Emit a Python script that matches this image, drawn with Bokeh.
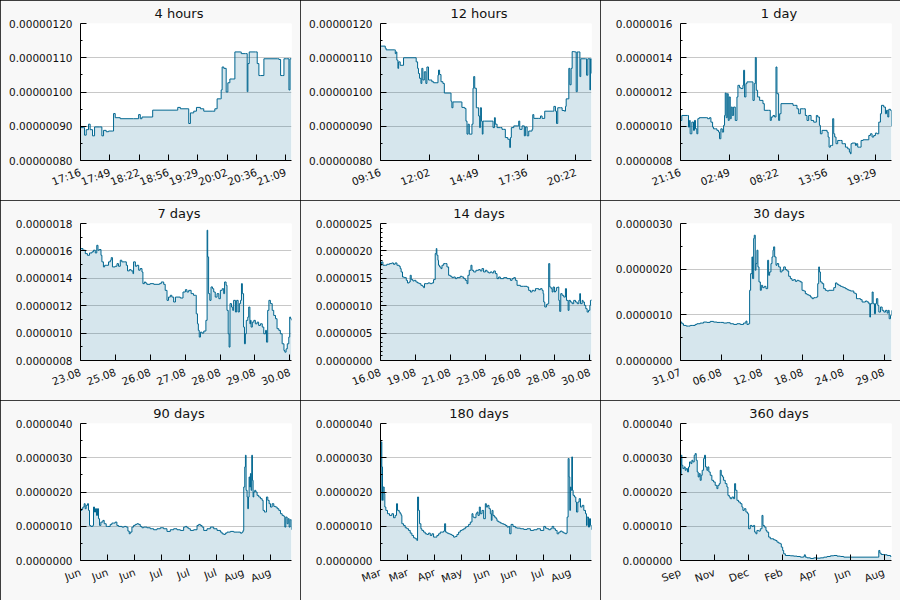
import numpy as np
from bokeh.plotting import figure
from bokeh.layouts import gridplot
from bokeh.models import FixedTicker, PrintfTickFormatter, Range1d
from bokeh.embed import file_html
from bokeh.resources import INLINE

LINE = "#006690"
FONT = "DejaVu Sans"

titles = ["4 hours", "12 hours", "1 day", "7 days", "14 days", "30 days",
          "90 days", "180 days", "360 days"]

# ---------------- data (times in panel units, values in 1e-6) ----------------
t_4h = [0, 3.4, 4.6, 6.5, 9.1, 11, 13.7, 16, 21.3, 24.3, 26.2, 29.2, 31.9, 36.8, 37.6, 39.5,
        45.2, 60.4, 65.4, 66.1, 68, 69.9, 81.3, 82.1, 108.7, 110.6, 113.6, 121.2, 123.1, 125,
        128.8, 131.9, 136.4, 140.2, 149.7, 152.8, 155.4, 159.2, 160, 161.1, 163, 165.7, 167.6,
        169.9, 173.3, 175.6, 182, 182.8, 187.7, 189.6, 190.4, 191.9, 199.1, 201, 202.9, 204.8,
        208.6, 223.8, 225.7, 227.6, 229.5, 231.4, 234.1, 237.1, 238.3, 240]
v_4h = [0.896, 0.896, 0.874, 0.89, 0.906, 0.89, 0.872, 0.898, 0.898, 0.872, 0.888, 0.884, 0.886,
        0.886, 0.937, 0.925, 0.922, 0.922, 0.922, 0.934, 0.922, 0.927, 0.927, 0.947, 0.947,
        0.955, 0.951, 0.951, 0.908, 0.939, 0.944, 0.955, 0.951, 0.944, 0.944, 0.951, 0.98, 0.98,
        1.006, 1.073, 1.069, 1.0, 1.027, 1.038, 1.038, 1.117, 1.117, 1.112, 1.112, 1.001, 1.083,
        1.117, 1.117, 1.083, 1.048, 1.048, 1.097, 1.097, 1.095, 1.048, 1.048, 1.097, 1.097,
        1.006, 1.097, 1.097]

t_12h = [0, 0.27, 0.32, 0.80, 0.84, 0.89, 0.93, 0.99, 1.03, 1.12, 1.31, 2.03, 2.11, 2.16, 2.22,
         2.30, 2.35, 2.41, 2.49, 2.58, 2.64, 2.73, 2.83, 2.92, 3.02, 3.21, 3.27, 3.30, 3.36,
         3.44, 3.55, 3.63, 3.97, 4.01, 4.06, 4.12, 4.60, 4.63, 4.79, 4.86, 4.92, 4.98, 5.05,
         5.15, 5.20, 5.26, 5.30, 5.36, 5.45, 5.53, 5.58, 5.64, 5.68, 5.74, 5.79, 5.83, 5.91,
         6.34, 6.40, 6.48, 6.53, 6.63, 6.82, 6.91, 7.01, 7.10, 7.24, 7.35, 7.39, 7.44, 7.58,
         7.77, 7.86, 7.92, 8.05, 8.18, 8.24, 8.34, 8.43, 8.62, 8.66, 8.72, 9.00, 9.10, 9.19,
         9.34, 9.76, 9.86, 9.95, 10.01, 10.08, 10.24, 10.33, 10.46, 10.52, 10.56, 10.67, 10.71,
         10.77, 10.84, 10.90, 10.96, 11.03, 11.13, 11.19, 11.28, 11.34, 11.39, 11.66, 11.72,
         11.79, 11.91, 11.94, 12.0]
v_12h = [1.134, 1.128, 1.123, 1.123, 1.112, 1.117, 1.093, 1.069, 1.088, 1.078, 1.1, 1.088,
         1.069, 1.054, 1.04, 1.025, 1.069, 1.035, 1.059, 1.025, 1.073, 1.035, 1.035, 1.030,
         1.027, 1.027, 1.049, 1.064, 1.051, 1.030, 1.025, 0.997, 0.997, 0.973, 0.954, 0.971,
         0.971, 0.955, 0.952, 0.915, 0.877, 0.906, 0.877, 0.877, 0.906, 1.011, 1.045, 1.011,
         0.954, 0.954, 0.930, 0.896, 0.954, 0.915, 0.877, 0.915, 0.915, 0.915, 0.896, 0.925,
         0.906, 0.896, 0.896, 0.891, 0.891, 0.867, 0.862, 0.838, 0.867, 0.896, 0.901, 0.901,
         0.915, 0.891, 0.901, 0.872, 0.898, 0.872, 0.886, 0.891, 0.934, 0.923, 0.923, 0.930,
         0.923, 0.944, 0.944, 0.958, 0.944, 0.908, 0.954, 0.954, 0.946, 0.944, 0.958, 0.980,
         0.980, 1.069, 1.021, 1.069, 1.118, 1.118, 1.117, 1.001, 1.117, 1.117, 1.045, 1.097,
         1.097, 1.049, 1.097, 1.006, 1.097, 1.054]

t_1d = [0, 0.15, 0.80, 0.91, 1.03, 1.10, 1.29, 1.48, 1.59, 1.71, 1.86, 1.97, 2.13, 3.0, 3.08,
        3.30, 3.46, 3.65, 3.76, 3.95, 4.14, 4.33, 4.44, 4.59, 4.75, 4.90, 5.01, 5.09, 5.20,
        5.32, 5.43, 5.54, 5.66, 5.77, 5.89, 6.04, 6.23, 6.42, 6.53, 6.72, 6.87, 7.10, 7.18,
        7.29, 7.44, 7.56, 8.13, 8.24, 8.39, 8.51, 8.62, 8.77, 9.0, 9.15, 9.38, 9.53, 10.02,
        10.21, 10.33, 10.52, 10.71, 10.86, 10.97, 11.16, 11.28, 11.43, 12.68, 12.80, 12.99,
        13.25, 13.44, 13.63, 14.01, 14.20, 14.39, 14.58, 14.85, 15.15, 15.45, 15.61, 15.80,
        15.91, 16.10, 16.67, 16.79, 16.90, 17.05, 17.16, 17.31, 17.43, 17.54, 17.69, 17.88,
        18.19, 18.38, 18.57, 18.76, 19.02, 19.21, 19.33, 19.40, 19.52, 19.90, 20.01, 20.16,
        20.39, 20.54, 20.77, 21.42, 21.60, 21.79, 21.98, 22.17, 22.36, 22.55, 22.74, 22.86,
        23.12, 23.31, 23.43, 23.58, 23.69, 23.88, 24.0]
v_1d = [1.034, 1.063, 1.063, 0.995, 1.034, 0.956, 1.024, 0.976, 1.034, 0.985, 0.956, 1.044,
        1.05, 1.05, 1.044, 1.05, 1.024, 0.995, 0.985, 0.985, 0.976, 0.966, 0.927, 0.985, 0.966,
        1.005, 1.063, 1.194, 1.05, 1.19, 1.034, 1.171, 1.044, 1.112, 1.063, 1.112, 1.034,
        1.171, 1.239, 1.225, 1.220, 1.239, 1.327, 1.171, 1.249, 1.259, 1.259, 1.151, 1.249,
        1.401, 1.210, 1.171, 1.151, 1.151, 1.132, 1.093, 1.093, 1.034, 1.054, 1.063, 1.054,
        1.346, 1.190, 1.034, 1.073, 1.132, 1.132, 1.122, 1.122, 1.102, 1.073, 1.102, 1.102,
        1.063, 1.034, 1.063, 1.034, 1.024, 1.063, 1.054, 1.005, 0.956, 0.976, 0.966, 0.937,
        0.878, 0.888, 0.888, 1.044, 0.956, 0.937, 0.898, 0.917, 0.917, 0.898, 0.898, 0.878,
        0.868, 0.849, 0.839, 0.898, 0.902, 0.888, 0.898, 0.878, 0.878, 0.917, 0.921, 0.946,
        0.956, 0.937, 0.946, 0.960, 0.956, 1.024, 1.073, 1.122, 1.112, 1.073, 1.093, 1.054,
        1.099, 1.093, 0.999]

t_7d = [0, 0.08, 0.16, 0.23, 0.30, 0.38, 0.43, 0.49, 0.54, 0.58, 0.62, 0.68, 0.71, 0.76, 0.80,
        0.85, 0.93, 0.99, 1.02, 1.06, 1.15, 1.21, 1.26, 1.32, 1.37, 1.45, 1.52, 1.56, 1.62,
        1.68, 1.74, 1.76, 1.82, 1.87, 1.93, 1.98, 2.04, 2.07, 2.12, 2.16, 2.20, 2.31, 2.43,
        2.62, 2.68, 2.76, 2.81, 2.87, 2.92, 2.98, 3.03, 3.09, 3.15, 3.20, 3.31, 3.40, 3.48,
        3.53, 3.59, 3.67, 3.75, 3.81, 3.84, 3.88, 3.91, 3.94, 3.98, 4.03, 4.09, 4.16, 4.20,
        4.22, 4.25, 4.29, 4.33, 4.38, 4.42, 4.47, 4.53, 4.59, 4.64, 4.70, 4.75, 4.78, 4.83,
        4.86, 4.90, 4.93, 4.96, 5.01, 5.05, 5.08, 5.14, 5.18, 5.23, 5.27, 5.31, 5.34, 5.37,
        5.41, 5.44, 5.47, 5.50, 5.55, 5.58, 5.62, 5.64, 5.66, 5.70, 5.75, 5.80, 5.86, 5.91,
        5.97, 6.03, 6.08, 6.14, 6.17, 6.21, 6.25, 6.30, 6.36, 6.41, 6.47, 6.52, 6.58, 6.63,
        6.69, 6.75, 6.78, 6.82, 6.86, 6.91, 6.94, 6.97, 7.0]
v_7d = [1.617, 1.605, 1.580, 1.568, 1.585, 1.593, 1.605, 1.585, 1.641, 1.605, 1.610, 1.568,
        1.520, 1.483, 1.495, 1.495, 1.520, 1.532, 1.551, 1.483, 1.488, 1.507, 1.488, 1.532,
        1.520, 1.520, 1.495, 1.454, 1.463, 1.454, 1.434, 1.520, 1.488, 1.495, 1.459, 1.471,
        1.446, 1.361, 1.373, 1.366, 1.356, 1.361, 1.356, 1.361, 1.373, 1.356, 1.312, 1.239,
        1.263, 1.276, 1.263, 1.227, 1.263, 1.263, 1.256, 1.300, 1.317, 1.300, 1.312, 1.288,
        1.276, 1.276, 1.141, 1.068, 1.020, 0.971, 1.007, 1.0, 1.015, 1.093, 1.751, 1.556,
        1.288, 1.239, 1.337, 1.324, 1.300, 1.263, 1.288, 1.251, 1.312, 1.324, 1.288, 1.373,
        1.349, 1.166, 0.995, 0.898, 1.215, 1.190, 1.166, 1.239, 1.154, 1.239, 1.154, 1.215,
        1.239, 1.361, 1.288, 1.044, 0.922, 0.995, 1.093, 1.117, 1.190, 1.068, 1.093, 1.044,
        1.080, 1.093, 1.068, 1.080, 1.056, 1.068, 1.044, 0.995, 1.020, 0.934, 1.166, 1.239,
        1.215, 1.166, 1.129, 1.105, 1.032, 1.020, 0.995, 0.922, 0.873, 0.861, 0.885, 0.922,
        0.971, 1.117, 1.105, 1.093]

t_14d = [0, 0.07, 0.16, 0.31, 0.42, 0.60, 0.75, 0.86, 0.97, 1.09, 1.24, 1.31, 1.37, 1.46, 1.57,
         1.71, 1.79, 1.90, 1.97, 2.04, 2.15, 2.24, 2.35, 2.46, 2.57, 2.68, 2.79, 2.86, 2.92,
         3.03, 3.15, 3.30, 3.41, 3.52, 3.63, 3.70, 3.74, 3.81, 3.85, 3.92, 4.01, 4.08, 4.19,
         4.30, 4.41, 4.52, 4.63, 4.74, 4.85, 4.96, 5.07, 5.29, 5.40, 5.52, 5.63, 5.74, 5.80,
         5.89, 6.00, 6.07, 6.18, 6.33, 6.51, 6.62, 6.73, 6.84, 6.96, 7.07, 7.18, 7.29, 7.40,
         7.51, 7.62, 7.73, 7.84, 7.95, 8.17, 8.39, 8.62, 8.73, 8.84, 8.95, 9.06, 9.28, 9.50,
         9.72, 9.83, 9.95, 10.06, 10.17, 10.28, 10.50, 10.61, 10.72, 10.79, 10.83, 10.90, 11.01,
         11.10, 11.16, 11.23, 11.32, 11.39, 11.45, 11.54, 11.61, 11.67, 11.76, 11.83, 11.89,
         11.96, 12.05, 12.16, 12.27, 12.34, 12.45, 12.51, 12.60, 12.71, 12.82, 12.94, 13.05,
         13.16, 13.22, 13.27, 13.38, 13.44, 13.53, 13.62, 13.71, 13.80, 13.89, 13.93, 14.0]
v_14d = [1.738, 1.799, 1.738, 1.738, 1.756, 1.768, 1.780, 1.756, 1.780, 1.738, 1.719, 1.677,
         1.616, 1.524, 1.512, 1.463, 1.415, 1.433, 1.555, 1.476, 1.451, 1.463, 1.433, 1.415,
         1.402, 1.372, 1.354, 1.329, 1.402, 1.402, 1.415, 1.402, 1.415, 1.476, 1.951, 2.043,
         1.921, 1.829, 1.738, 1.707, 1.677, 1.738, 1.768, 1.768, 1.707, 1.555, 1.537, 1.512,
         1.524, 1.494, 1.512, 1.537, 1.524, 1.494, 1.463, 1.402, 1.555, 1.646, 1.738, 1.646,
         1.616, 1.646, 1.659, 1.634, 1.677, 1.616, 1.646, 1.616, 1.598, 1.616, 1.598, 1.634,
         1.585, 1.494, 1.524, 1.494, 1.512, 1.494, 1.463, 1.494, 1.512, 1.463, 1.372, 1.354,
         1.354, 1.341, 1.280, 1.250, 1.280, 1.268, 1.311, 1.293, 1.311, 1.280, 1.220, 1.067,
         0.976, 1.024, 1.037, 1.768, 1.341, 1.311, 1.250, 1.341, 1.250, 1.268, 1.329, 1.341,
         1.097, 0.896, 1.220, 1.189, 1.158, 1.311, 1.097, 0.915, 1.097, 1.067, 1.037, 1.097,
         1.067, 1.037, 1.097, 1.220, 1.037, 1.097, 1.067, 1.006, 0.945, 0.884, 0.915, 1.006,
         1.097, 1.110]

t_30d = [0, 0.19, 0.43, 0.81, 1.14, 1.38, 1.76, 2.09, 2.33, 2.80, 3.28, 3.75, 4.22, 4.70, 5.17,
         5.65, 6.12, 6.60, 7.07, 7.55, 8.02, 8.50, 8.97, 9.30, 9.45, 9.68, 9.83, 9.97, 10.16,
         10.25, 10.40, 10.49, 10.63, 10.73, 10.87, 11.01, 11.16, 11.35, 11.49, 11.68, 11.91,
         12.15, 12.39, 12.53, 12.67, 12.86, 13.01, 13.15, 13.24, 13.39, 13.58, 13.72, 13.96,
         14.19, 14.43, 14.67, 14.91, 15.14, 15.38, 15.62, 15.85, 16.09, 16.33, 16.57, 16.80,
         17.04, 17.28, 17.52, 17.75, 17.99, 18.23, 18.47, 18.70, 18.94, 19.18, 19.32, 19.51,
         19.65, 19.75, 19.89, 20.13, 20.36, 20.60, 20.84, 21.08, 21.55, 21.79, 22.03, 22.26,
         22.50, 22.74, 22.98, 23.21, 23.45, 23.69, 23.92, 24.16, 24.64, 24.87, 25.02, 25.35,
         25.59, 25.82, 26.30, 26.54, 26.77, 26.92, 27.01, 27.25, 27.39, 27.58, 27.72, 27.86,
         28.05, 28.20, 28.43, 28.67, 28.91, 29.15, 29.38, 29.53, 29.67, 29.86, 30.0]
v_30d = [0.842, 0.805, 0.768, 0.754, 0.754, 0.768, 0.768, 0.790, 0.805, 0.820, 0.842, 0.834,
         0.856, 0.842, 0.834, 0.834, 0.820, 0.827, 0.805, 0.790, 0.805, 0.790, 0.820, 0.863,
         0.790, 0.805, 1.537, 1.902, 2.268, 1.793, 2.671, 2.744, 1.976, 2.122, 2.415, 2.049,
         1.720, 1.537, 1.646, 1.595, 1.624, 1.573, 2.195, 1.866, 1.939, 2.122, 2.268, 2.415,
         2.488, 2.268, 2.085, 2.122, 2.049, 1.939, 1.976, 2.049, 1.990, 1.961, 1.844, 1.793,
         1.756, 1.771, 1.734, 1.756, 1.741, 1.720, 1.537, 1.522, 1.463, 1.441, 1.427, 1.390,
         1.354, 1.376, 1.376, 1.390, 1.683, 2.049, 1.939, 1.720, 1.683, 1.573, 1.537, 1.522,
         1.537, 1.537, 1.595, 1.698, 1.668, 1.646, 1.624, 1.610, 1.595, 1.573, 1.551, 1.537,
         1.522, 1.478, 1.463, 1.354, 1.354, 1.332, 1.281, 1.302, 1.281, 1.244, 0.951, 1.244,
         1.500, 1.244, 1.024, 1.244, 1.354, 1.207, 1.061, 1.171, 1.098, 1.061, 1.098, 1.039,
         1.098, 0.915, 0.988, 1.098]

t_90d = [0, 0.57, 1.00, 1.57, 1.99, 2.42, 2.99, 3.42, 3.84, 4.41, 5.27, 5.55, 5.98, 6.41, 6.84,
         7.26, 7.69, 8.12, 8.69, 9.54, 10.11, 10.96, 11.53, 12.67, 13.39, 14.10, 14.81, 15.52,
         16.23, 17.66, 18.65, 19.51, 20.22, 20.79, 21.22, 21.93, 22.64, 23.35, 24.07, 24.78,
         25.49, 26.20, 26.91, 28.34, 29.76, 31.18, 32.61, 34.03, 35.46, 36.88, 38.31, 39.73,
         41.15, 42.58, 44.00, 44.71, 45.43, 46.14, 46.85, 48.27, 49.70, 50.41, 51.12, 51.83,
         52.55, 53.97, 55.39, 56.82, 58.24, 59.67, 60.38, 61.09, 61.80, 62.51, 63.94, 65.36,
         66.79, 68.21, 68.92, 69.35, 69.63, 70.06, 70.35, 70.63, 71.06, 71.34, 71.63, 71.91,
         72.20, 72.48, 72.77, 73.05, 73.34, 73.62, 73.91, 74.33, 74.76, 75.33, 76.04, 76.75,
         77.47, 77.89, 78.46, 78.89, 79.32, 79.89, 80.46, 81.03, 81.74, 82.45, 83.16, 83.87,
         84.59, 85.30, 86.01, 86.72, 87.15, 87.57, 88.14, 88.57, 89.00, 89.43, 90.0]
v_90d = [1.463, 1.512, 1.561, 1.658, 1.512, 1.610, 1.658, 1.463, 1.024, 0.995, 1.024, 1.561,
         1.415, 1.512, 1.317, 1.512, 1.220, 1.024, 1.122, 1.171, 1.073, 0.995, 0.995, 1.054,
         1.093, 1.093, 1.122, 1.024, 0.995, 0.976, 0.995, 0.976, 0.859, 0.780, 0.829, 0.976,
         1.024, 1.054, 1.073, 1.054, 0.995, 0.956, 0.976, 0.956, 0.927, 0.898, 0.927, 0.956,
         0.927, 0.849, 0.898, 0.927, 0.898, 0.878, 0.976, 0.995, 0.956, 0.927, 0.878, 0.898,
         1.024, 1.054, 1.024, 0.976, 0.878, 0.927, 0.976, 0.927, 0.878, 0.829, 0.780, 0.761,
         0.800, 0.829, 0.849, 0.829, 0.829, 0.800, 0.829, 0.878, 2.146, 2.732, 3.073, 2.049,
         1.854, 1.512, 1.854, 2.439, 2.146, 2.537, 2.049, 3.073, 2.341, 1.854, 2.0, 2.049, 2.0,
         1.902, 1.854, 1.805, 1.756, 1.463, 1.415, 1.415, 1.854, 1.756, 1.658, 1.561, 1.658,
         1.580, 1.561, 1.512, 1.463, 1.366, 1.317, 1.288, 0.976, 1.268, 1.073, 1.220, 0.976,
         1.190, 0.898]

t_180d = [0, 0.57, 1.14, 1.71, 2.28, 3.13, 3.70, 4.56, 5.98, 7.69, 9.68, 11.11, 12.53, 13.67,
          14.52, 15.95, 16.80, 17.66, 18.23, 19.65, 21.08, 22.50, 23.92, 25.35, 26.77, 28.20,
          29.62, 31.04, 31.61, 32.47, 33.32, 34.46, 35.32, 36.74, 38.16, 39.59, 41.01, 42.44,
          43.86, 45.28, 46.71, 48.13, 49.56, 50.98, 52.40, 53.83, 54.68, 55.54, 56.68, 58.10,
          59.52, 60.95, 62.37, 63.80, 65.22, 66.64, 68.07, 69.49, 70.92, 72.34, 73.76, 75.19,
          76.61, 78.04, 78.89, 80.03, 81.45, 82.31, 83.16, 84.30, 85.16, 86.58, 88.00, 89.43,
          90.28, 91.42, 92.56, 93.70, 94.55, 95.12, 95.98, 97.12, 98.54, 99.40, 100.82, 102.24,
          103.67, 105.09, 106.52, 107.94, 109.36, 110.22, 111.36, 113.07, 115.06, 116.48, 119.33,
          122.18, 125.03, 127.88, 130.72, 133.57, 136.42, 139.27, 140.69, 142.11, 143.54,
          144.96, 146.39, 147.81, 149.24, 150.66, 152.08, 153.51, 154.93, 156.36, 157.78,
          158.63, 159.20, 160.06, 160.91, 161.48, 162.05, 162.62, 163.19, 163.76, 164.33,
          165.47, 166.61, 167.18, 168.32, 169.46, 170.60, 172.02, 173.45, 174.87, 175.72,
          176.29, 177.43, 178.28, 179.15, 180]
v_180d = [1.756, 3.463, 2.732, 1.756, 2.146, 1.951, 1.561, 1.463, 1.366, 1.317, 1.366, 1.249,
          1.317, 1.658, 1.463, 1.415, 1.366, 1.317, 1.073, 1.024, 0.956, 0.927, 0.878, 0.800,
          0.732, 0.663, 0.634, 0.585, 1.854, 1.463, 1.073, 0.927, 0.878, 0.829, 0.780, 0.761,
          0.800, 0.732, 0.780, 0.683, 0.683, 0.732, 0.780, 0.829, 0.829, 0.859, 1.073, 0.829,
          0.800, 0.780, 0.761, 0.732, 0.683, 0.702, 0.761, 0.829, 0.878, 0.898, 0.927, 0.976,
          0.995, 1.054, 1.122, 1.366, 1.268, 1.249, 1.366, 1.415, 1.317, 1.561, 1.366, 1.463,
          1.220, 1.658, 1.561, 1.610, 1.512, 1.366, 1.171, 1.463, 1.317, 1.268, 1.220, 1.151,
          1.122, 1.093, 1.073, 1.054, 1.024, 0.976, 0.995, 0.780, 1.054, 0.995, 0.956, 0.946,
          0.927, 0.907, 0.927, 0.878, 0.898, 0.927, 0.878, 0.995, 0.946, 0.927, 0.898, 0.927,
          0.995, 0.927, 0.878, 0.780, 0.829, 0.859, 0.829, 0.800, 0.780, 0.800, 1.268, 2.976,
          2.439, 1.463, 2.146, 2.049, 3.024, 2.049, 1.902, 1.854, 1.707, 1.415, 1.707, 1.805,
          1.561, 1.610, 1.463, 1.366, 1.024, 1.268, 0.976, 1.220, 1.024, 0.898]

t_360d = [0, 1.1, 2.3, 4.0, 6.3, 8.0, 9.7, 12.0, 13.7, 15.4, 17.7, 19.4, 21.1, 23.4, 25.1, 26.8,
          28.5, 30.2, 31.9, 33.6, 35.3, 37.0, 39.3, 41.0, 42.7, 45.0, 46.7, 48.4, 50.7, 53.5,
          56.4, 59.2, 62.1, 63.8, 66.1, 67.8, 69.5, 71.8, 73.5, 76.3, 79.2, 80.9, 83.2, 84.9,
          87.7, 90.6, 92.3, 94.0, 96.3, 99.1, 102.0, 104.8, 106.5, 108.8, 111.6, 114.5, 116.2,
          119.0, 121.9, 124.7, 126.5, 128.7, 130.4, 133.3, 136.1, 139.0, 140.7, 143.0, 145.8,
          147.5, 150.4, 153.2, 156.1, 158.9, 161.8, 164.6, 167.5, 170.3, 172.0, 174.3, 176.0,
          178.9, 181.7, 187.4, 193.1, 198.8, 204.5, 210.2, 211.3, 213.0, 215.9, 221.6, 227.3,
          233.0, 238.7, 244.4, 250.1, 255.8, 261.4, 267.1, 272.8, 278.5, 335.5, 338.3, 340.1,
          342.3, 346.9, 352.6, 358.3, 360]
v_360d = [24.88, 30.73, 27.80, 26.83, 27.32, 26.34, 26.83, 25.85, 27.32, 28.78, 28.29, 29.27,
          28.78, 30.73, 31.22, 29.27, 25.85, 24.39, 25.37, 23.41, 24.88, 26.34, 29.76, 30.73,
          27.32, 26.34, 27.32, 25.85, 24.88, 23.41, 22.93, 21.95, 20.98, 21.95, 22.44, 26.34,
          24.88, 24.39, 23.41, 22.44, 21.46, 19.02, 18.54, 18.05, 18.54, 18.05, 22.44, 20.49,
          17.56, 17.07, 16.59, 15.61, 14.63, 15.12, 14.15, 13.66, 9.27, 10.24, 9.95, 10.24,
          8.29, 7.80, 8.78, 8.59, 9.27, 13.17, 10.24, 9.76, 8.78, 8.29, 6.83, 6.34, 6.34, 6.05,
          5.85, 5.37, 5.07, 4.88, 3.90, 2.93, 1.95, 1.46, 1.46, 1.37, 1.27, 1.17, 0.98, 1.17,
          1.66, 0.98, 0.78, 0.59, 0.78, 0.68, 0.78, 0.98, 1.17, 1.37, 1.46, 1.27, 1.17, 0.98,
          0.98, 2.93, 2.15, 1.76, 1.66, 1.46, 1.17, 1.17]

times = [t_4h, t_12h, t_1d, t_7d, t_14d, t_30d, t_90d, t_180d, t_360d]
values = [v_4h, v_12h, v_1d, v_7d, v_14d, v_30d, v_90d, v_180d, v_360d]

# window length in panel units and seconds per unit
spans = [240, 12, 24, 7, 14, 30, 90, 180, 360]
unit_seconds = [60, 3600, 3600, 86400, 86400, 86400, 86400, 86400, 86400]
tick_step_seconds = [2000, 10000, 20000, 100000, 200000, 500000, 1000000, 2000000, 5000000]

xlabels = [
    ["17:16", "17:49", "18:22", "18:56", "19:29", "20:02", "20:36", "21:09"],
    ["09:16", "12:02", "14:49", "17:36", "20:22"],
    ["21:16", "02:49", "08:22", "13:56", "19:29"],
    ["23.08", "25.08", "26.08", "27.08", "28.08", "29.08", "30.08"],
    ["16.08", "19.08", "21.08", "23.08", "26.08", "28.08", "30.08"],
    ["31.07", "06.08", "12.08", "18.08", "24.08", "29.08"],
    ["Jun", "Jun", "Jun", "Jul", "Jul", "Jul", "Aug", "Aug"],
    ["Mar", "Mar", "Apr", "May", "Jun", "Jun", "Jul", "Aug"],
    ["Sep", "Nov", "Dec", "Feb", "Apr", "Jun", "Aug"],
]

yticks = [
    [0.8e-6, 0.9e-6, 1.0e-6, 1.1e-6, 1.2e-6],
    [0.8e-6, 0.9e-6, 1.0e-6, 1.1e-6, 1.2e-6],
    [0.8e-6, 1.0e-6, 1.2e-6, 1.4e-6, 1.6e-6],
    [0.8e-6, 1.0e-6, 1.2e-6, 1.4e-6, 1.6e-6, 1.8e-6],
    [0.0, 0.5e-6, 1.0e-6, 1.5e-6, 2.0e-6, 2.5e-6],
    [0.0, 1.0e-6, 2.0e-6, 3.0e-6],
    [0.0, 1.0e-6, 2.0e-6, 3.0e-6, 4.0e-6],
    [0.0, 1.0e-6, 2.0e-6, 3.0e-6, 4.0e-6],
    [0.0, 1.0e-5, 2.0e-5, 3.0e-5, 4.0e-5],
]
minor_div = [2, 2, 2, 2, 6, 2, 2, 2, 2]
yformats = ["%.8f", "%.8f", "%.7f", "%.7f", "%.7f", "%.7f", "%.7f", "%.7f", "%.6f"]
top_border = [21, 21, 23, 23, 23, 23, 23, 23, 23]

# approximate DejaVu Sans advance widths (em) used to centre titles at x=178.5
ADV = {"0": 0.636, "1": 0.636, "2": 0.636, "3": 0.636, "4": 0.636, "6": 0.636, "7": 0.636,
       "8": 0.636, "9": 0.636, " ": 0.318, "h": 0.634, "o": 0.612, "u": 0.634, "r": 0.411,
       "s": 0.521, "d": 0.635, "a": 0.613, "y": 0.592}
TITLE_PX = 13
TITLE_CENTER = 178.5
FRAME_LEFT = 80

figs = []
for i in range(9):
    yt = yticks[i]
    y0, y1 = yt[0], yt[-1]
    span = spans[i]
    p = figure(width=300, height=200, output_backend="svg", toolbar_location=None,
               x_range=Range1d(0, span), y_range=Range1d(y0, y1),
               min_border_left=FRAME_LEFT, min_border_right=9, min_border_top=top_border[i],
               min_border_bottom=40)
    p.border_fill_color = "#f8f8f8"
    p.background_fill_color = "white"
    p.outline_line_color = None
    p.styles = {"outline": "1px solid black", "outline-offset": "-1px"}
    p.xgrid.visible = False
    p.ygrid.grid_line_color = "#c8c8c8"
    p.ygrid.grid_line_width = 1

    tw = sum(ADV.get(c, 0.6) for c in titles[i]) * TITLE_PX
    p.title.text = titles[i]
    p.title.align = "left"
    p.title.offset = TITLE_CENTER - FRAME_LEFT - tw / 2
    p.title.text_font = FONT
    p.title.text_font_size = f"{TITLE_PX}px"
    p.title.text_font_style = "normal"
    p.title.text_color = "#111111"
    p.title.standoff = 6

    step = tick_step_seconds[i] / unit_seconds[i]
    xt = [k * step for k in range(len(xlabels[i]))]
    minor_y = []
    for a, b in zip(yt[:-1], yt[1:]):
        for m in range(1, minor_div[i]):
            minor_y.append(a + (b - a) * m / minor_div[i])

    p.xaxis.ticker = FixedTicker(ticks=xt)
    p.xaxis.major_label_overrides = {x: lab for x, lab in zip(xt, xlabels[i])}
    p.yaxis.ticker = FixedTicker(ticks=yt, minor_ticks=minor_y)
    p.yaxis.formatter = PrintfTickFormatter(format=yformats[i])

    for ax in (p.xaxis, p.yaxis):
        ax.axis_line_color = "black"
        ax.major_tick_line_color = "black"
        ax.major_tick_in = 6
        ax.major_tick_out = 0
        ax.major_label_text_font = FONT
        ax.major_label_text_font_size = "10.5px"
        ax.major_label_text_color = "#111111"
    p.yaxis.minor_tick_in = 2
    p.yaxis.minor_tick_out = 0
    p.yaxis.minor_tick_line_color = "black"
    p.yaxis.major_label_standoff = 8
    p.xaxis.minor_tick_line_color = None
    p.xaxis.major_label_orientation = 0.35
    p.xaxis.major_label_standoff = 11

    t = np.array(times[i], dtype=float)
    v = np.array(values[i], dtype=float) * 1e-6
    p.varea_step(x=t, y1=np.full_like(v, y0), y2=v, step_mode="after",
                 fill_color=LINE, fill_alpha=0.16)
    p.step(x=t, y=v, mode="after", line_color=LINE, line_width=1)
    figs.append(p)

grid = gridplot([figs[0:3], figs[3:6], figs[6:9]], toolbar_location=None)
open("out.html", "w").write(file_html(grid, INLINE))
